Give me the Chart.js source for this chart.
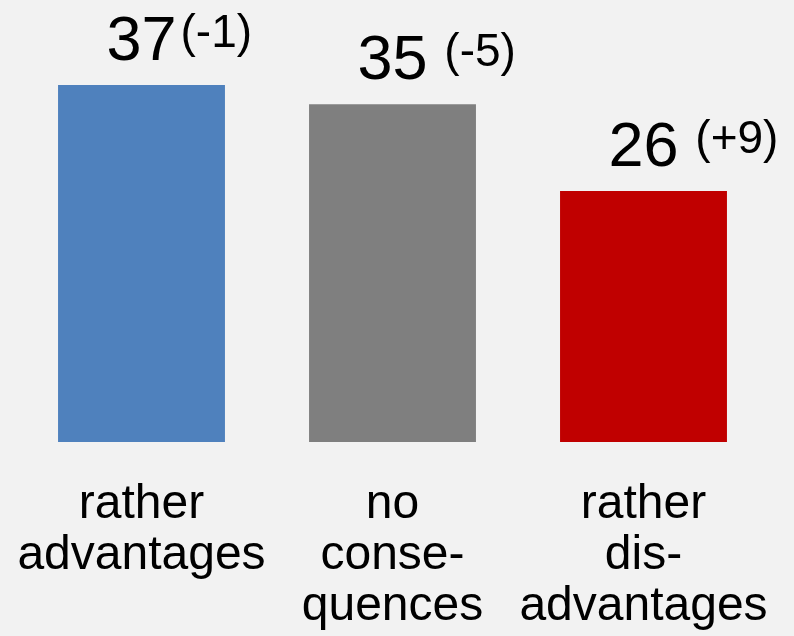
<!DOCTYPE html>
<html>
<head>
<meta charset="utf-8">
<script src="https://cdn.jsdelivr.net/npm/chart.js@4/dist/chart.umd.min.js"></script>
<style>
  html, body { margin: 0; padding: 0; background: #f2f2f2; }
  #wrap { width: 794px; height: 636px; position: relative; }
</style>
</head>
<body>
<div id="wrap"><canvas id="c"></canvas></div>
<script>
// Survey answers: share in percent, with change since previous wave
const categories = [
  ['rather', 'advantages'],
  ['no', 'conse-', 'quences'],
  ['rather', 'dis-', 'advantages']
];
const shares = [37, 35, 26];
const changes = ['(-1)', ' (-5)', ' (+9)'];
const barColors = ['#4f81bd', '#7f7f7f', '#c00000'];

const FONT = '"Liberation Sans", Arial, Helvetica, sans-serif';

// Paints the slide background behind the chart
const backgroundPlugin = {
  id: 'slideBackground',
  beforeDraw(chart) {
    const ctx = chart.ctx;
    ctx.save();
    ctx.fillStyle = '#f2f2f2';
    ctx.fillRect(0, 0, chart.width, chart.height);
    ctx.restore();
  }
};

// Writes the value above each bar, with the change shown smaller and raised to its right
const valueLabelPlugin = {
  id: 'valueLabels',
  afterDatasetsDraw(chart) {
    const ctx = chart.ctx;
    const meta = chart.getDatasetMeta(0);
    ctx.save();
    ctx.fillStyle = '#000';
    ctx.textBaseline = 'alphabetic';
    meta.data.forEach((bar, i) => {
      const valueText = String(shares[i]);
      const baseY = bar.y - 25;
      ctx.font = '63px ' + FONT;
      ctx.textAlign = 'center';
      ctx.fillText(valueText, bar.x, baseY);
      const half = ctx.measureText(valueText).width / 2;
      ctx.font = '46px ' + FONT;
      ctx.textAlign = 'left';
      ctx.fillText(changes[i], bar.x + half + 4, baseY - 13);
    });
    ctx.restore();
  }
};

new Chart(document.getElementById('c'), {
  type: 'bar',
  data: {
    labels: categories,
    datasets: [{
      data: shares,
      backgroundColor: barColors,
      borderWidth: 0,
      categoryPercentage: 1,
      barPercentage: 0.665
    }]
  },
  options: {
    responsive: true,
    maintainAspectRatio: false,
    animation: false,
    layout: { padding: { left: 16, right: 25, top: 0, bottom: 0 } },
    plugins: {
      legend: { display: false },
      tooltip: { enabled: false },
      title: { display: false }
    },
    scales: {
      x: {
        grid: { display: false, drawTicks: false },
        border: { display: false },
        ticks: {
          color: '#000',
          padding: 37,
          maxRotation: 0,
          autoSkip: false,
          font: { family: FONT, size: 48, lineHeight: '51px' }
        },
        afterFit(scale) {
          // fixed axis band; labels may overhang the plot edges
          scale.height = 194;
          scale.paddingLeft = 0;
          scale.paddingRight = 0;
        }
      },
      y: {
        display: false,
        min: 0,
        max: 45.8
      }
    }
  },
  plugins: [backgroundPlugin, valueLabelPlugin]
});
</script>
</body>
</html>
